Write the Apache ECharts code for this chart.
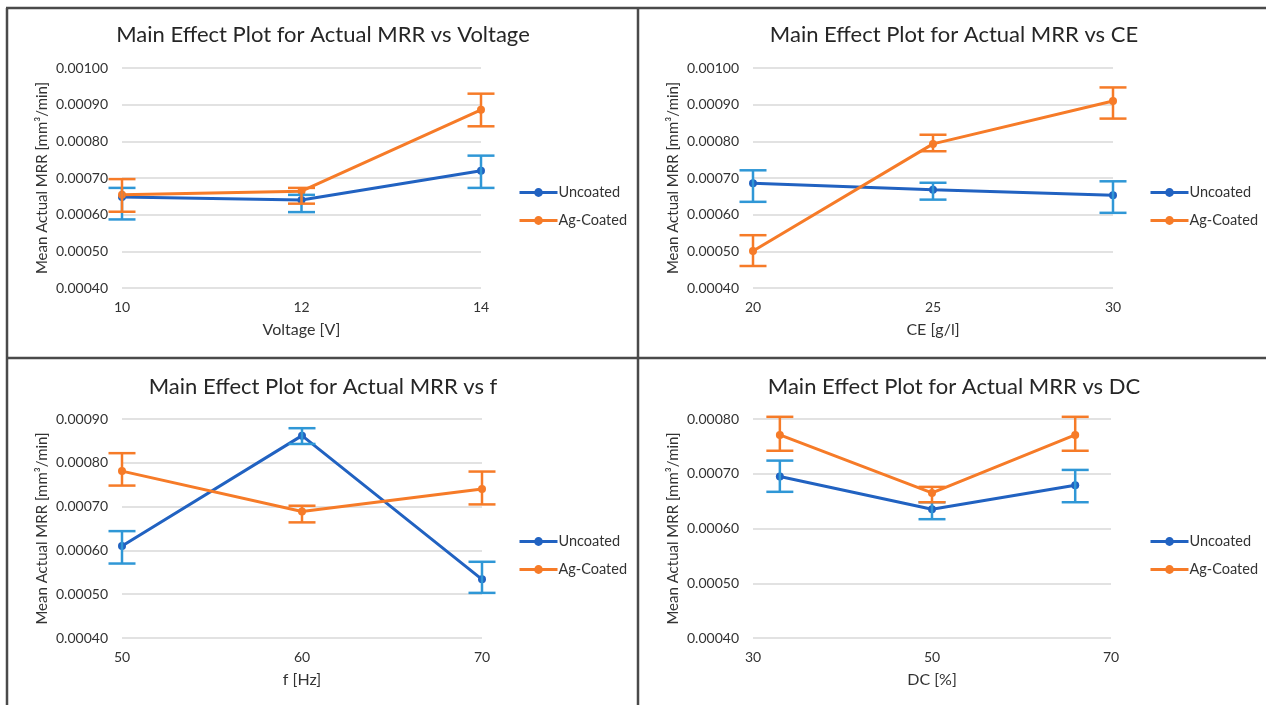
<!DOCTYPE html>
<html>
<head>
<meta charset="utf-8">
<script src="https://cdn.jsdelivr.net/npm/echarts@6/dist/echarts.min.js"></script>
<style>
  html, body { margin: 0; padding: 0; background: #ffffff; }
  #chart { width: 1266px; height: 705px; }
</style>
</head>
<body>
<div id="chart"></div>
<script>
// ---------- data ----------
const seriesNames = ['Uncoated', 'Ag-Coated'];

const voltageLevels = [10, 12, 14];
const voltageUncoated = [0.000648, 0.000640, 0.000720];
const voltageUncoatedLow = [0.000587, 0.000607, 0.000673];
const voltageUncoatedHigh = [0.000673, 0.000654, 0.000761];
const voltageCoated = [0.000654, 0.000664, 0.000886];
const voltageCoatedLow = [0.000608, 0.000630, 0.000841];
const voltageCoatedHigh = [0.000697, 0.000673, 0.000930];

const ceLevels = [20, 25, 30];
const ceUncoated = [0.000686, 0.000668, 0.000653];
const ceUncoatedLow = [0.000635, 0.000641, 0.000605];
const ceUncoatedHigh = [0.000721, 0.000687, 0.000691];
const ceCoated = [0.000501, 0.000793, 0.000910];
const ceCoatedLow = [0.000460, 0.000773, 0.000862];
const ceCoatedHigh = [0.000544, 0.000818, 0.000947];

const fLevels = [50, 60, 70];
const fUncoated = [0.000610, 0.000862, 0.000534];
const fUncoatedLow = [0.000570, 0.000843, 0.000503];
const fUncoatedHigh = [0.000644, 0.000879, 0.000574];
const fCoated = [0.000781, 0.000689, 0.000740];
const fCoatedLow = [0.000748, 0.000664, 0.000705];
const fCoatedHigh = [0.000822, 0.000702, 0.000780];

const dcLevels = [33, 50, 66];
const dcUncoated = [0.000695, 0.000635, 0.000679];
const dcUncoatedLow = [0.000667, 0.000617, 0.000648];
const dcUncoatedHigh = [0.000724, 0.000648, 0.000707];
const dcCoated = [0.000771, 0.000665, 0.000771];
const dcCoatedLow = [0.000742, 0.000648, 0.000742];
const dcCoatedHigh = [0.000804, 0.000676, 0.000804];

// tick labels
const voltageTicks = [10, 12, 14];
const ceTicks = [20, 25, 30];
const fTicks = [50, 60, 70];
const dcTicks = [30, 50, 70];
const yTicksTop = [0.0004, 0.0005, 0.0006, 0.0007, 0.0008, 0.0009, 0.0010];
const yTicksF = [0.0004, 0.0005, 0.0006, 0.0007, 0.0008, 0.0009];
const yTicksDC = [0.0004, 0.0005, 0.0006, 0.0007, 0.0008];

const titles = [
  'Main Effect Plot for Actual MRR vs Voltage',
  'Main Effect Plot for Actual MRR vs CE',
  'Main Effect Plot for Actual MRR vs f',
  'Main Effect Plot for Actual MRR vs DC'
];
const xNames = ['Voltage [V]', 'CE [g/l]', 'f [Hz]', 'DC [%]'];
const yName = 'Mean Actual MRR [mm\u00B3/min]';

// ---------- layout / style ----------
const FONT = 'Lato';
const TEXT = '#333333';
const BLUE = '#2162C1';
const BLUE_ERR = '#2F97D6';
const ORANGE = '#F67B28';
const ORANGE_ERR = '#F67B28';

const panels = [
  { levels: voltageLevels, xt: voltageTicks, yt: yTicksTop,
    u: voltageUncoated, uL: voltageUncoatedLow, uH: voltageUncoatedHigh,
    c: voltageCoated, cL: voltageCoatedLow, cH: voltageCoatedHigh,
    grid: { left: 122, top: 68, width: 359, height: 220 },
    legend: { left: 513, top: 180 }, title: { x: 323, y: 35 } },
  { levels: ceLevels, xt: ceTicks, yt: yTicksTop,
    u: ceUncoated, uL: ceUncoatedLow, uH: ceUncoatedHigh,
    c: ceCoated, cL: ceCoatedLow, cH: ceCoatedHigh,
    grid: { left: 753, top: 68, width: 360, height: 220 },
    legend: { left: 1144, top: 180 }, title: { x: 954, y: 35 } },
  { levels: fLevels, xt: fTicks, yt: yTicksF,
    u: fUncoated, uL: fUncoatedLow, uH: fUncoatedHigh,
    c: fCoated, cL: fCoatedLow, cH: fCoatedHigh,
    grid: { left: 122, top: 419, width: 360, height: 219 },
    legend: { left: 513, top: 529 }, title: { x: 323, y: 387 } },
  { levels: dcLevels, xt: dcTicks, yt: yTicksDC,
    u: dcUncoated, uL: dcUncoatedLow, uH: dcUncoatedHigh,
    c: dcCoated, cL: dcCoatedLow, cH: dcCoatedHigh,
    grid: { left: 753, top: 419, width: 358, height: 219 },
    legend: { left: 1144, top: 529 }, title: { x: 954, y: 387 } }
];

function errorRenderer(color) {
  return function (params, api) {
    const x = api.value(0);
    const lo = api.coord([x, api.value(1)]);
    const hi = api.coord([x, api.value(2)]);
    const hw = 13.5;
    const style = { stroke: color, lineWidth: 2.5 };
    return {
      type: 'group',
      children: [
        { type: 'line', shape: { x1: lo[0], y1: lo[1], x2: hi[0], y2: hi[1] }, style },
        { type: 'line', shape: { x1: hi[0] - hw, y1: hi[1], x2: hi[0] + hw, y2: hi[1] }, style },
        { type: 'line', shape: { x1: lo[0] - hw, y1: lo[1], x2: lo[0] + hw, y2: lo[1] }, style }
      ]
    };
  };
}

const grid = [], xAxis = [], yAxis = [], series = [], legend = [], graphic = [];

panels.forEach((p, i) => {
  grid.push(Object.assign({ containLabel: false }, p.grid));
  xAxis.push({
    type: 'value', gridIndex: i,
    min: p.xt[0], max: p.xt[p.xt.length - 1], interval: p.xt[1] - p.xt[0],
    name: xNames[i], nameLocation: 'middle', nameGap: 34,
    nameTextStyle: { fontFamily: FONT, fontSize: 16, color: TEXT },
    axisLine: { show: false }, axisTick: { show: false }, splitLine: { show: false },
    axisLabel: { fontFamily: FONT, fontSize: 14, color: TEXT, margin: 12 }
  });
  yAxis.push({
    type: 'value', gridIndex: i,
    min: p.yt[0], max: p.yt[p.yt.length - 1], interval: 0.0001,
    name: yName, nameLocation: 'middle', nameGap: 72,
    nameTextStyle: { fontFamily: FONT, fontSize: 15, color: TEXT },
    axisLine: { show: false }, axisTick: { show: false },
    splitLine: { show: true, lineStyle: { color: '#D9D9D9', width: 1.5 } },
    axisLabel: { fontFamily: FONT, fontSize: 14, color: TEXT, margin: 14,
      formatter: v => v.toFixed(5) }
  });
  const mk = (name, vals, color) => ({
    name, type: 'line', xAxisIndex: i, yAxisIndex: i,
    data: p.levels.map((x, k) => [x, vals[k]]),
    symbol: 'circle', symbolSize: 8,
    lineStyle: { color, width: 3 }, itemStyle: { color },
    animation: false, z: 2
  });
  const mkErr = (name, lo, hi, color) => ({
    name, type: 'custom', xAxisIndex: i, yAxisIndex: i,
    data: p.levels.map((x, k) => [x, lo[k], hi[k]]),
    renderItem: errorRenderer(color),
    itemStyle: { color }, animation: false, z: 3,
    encode: { x: 0, y: [1, 2] }
  });
  series.push(mk(seriesNames[0], p.u, BLUE));
  series.push(mkErr(seriesNames[0], p.uL, p.uH, BLUE_ERR));
  series.push(mk(seriesNames[1], p.c, ORANGE));
  series.push(mkErr(seriesNames[1], p.cL, p.cH, ORANGE_ERR));
  legend.push({
    orient: 'vertical', left: p.legend.left, top: p.legend.top,
    data: seriesNames.slice(),
    itemWidth: 38, itemHeight: 11, itemGap: 13,
    itemStyle: { borderWidth: 0 },
    lineStyle: { width: 3 },
    textStyle: { fontFamily: FONT, fontSize: 14.5, color: TEXT, padding: [0, 0, 0, -4] },
    selectedMode: false
  });
  graphic.push({
    type: 'text', x: p.title.x, y: p.title.y,
    style: { text: titles[i], font: '22px ' + FONT, fill: '#262626',
      textAlign: 'center', textVerticalAlign: 'middle' }
  });
});

// panel frame lines
const frame = { stroke: '#4a4a4a', lineWidth: 2.5 };
graphic.push({ type: 'line', shape: { x1: 6, y1: 8, x2: 1266, y2: 8 }, style: frame });
graphic.push({ type: 'line', shape: { x1: 7, y1: 8, x2: 7, y2: 705 }, style: frame });
graphic.push({ type: 'line', shape: { x1: 638, y1: 8, x2: 638, y2: 705 }, style: frame });
graphic.push({ type: 'line', shape: { x1: 6, y1: 358, x2: 1266, y2: 358 }, style: frame });

const chart = echarts.init(document.getElementById('chart'), null, { renderer: 'canvas' });
chart.setOption({
  backgroundColor: '#ffffff',
  animation: false,
  grid, xAxis, yAxis, series, legend, graphic
});
</script>
</body>
</html>
